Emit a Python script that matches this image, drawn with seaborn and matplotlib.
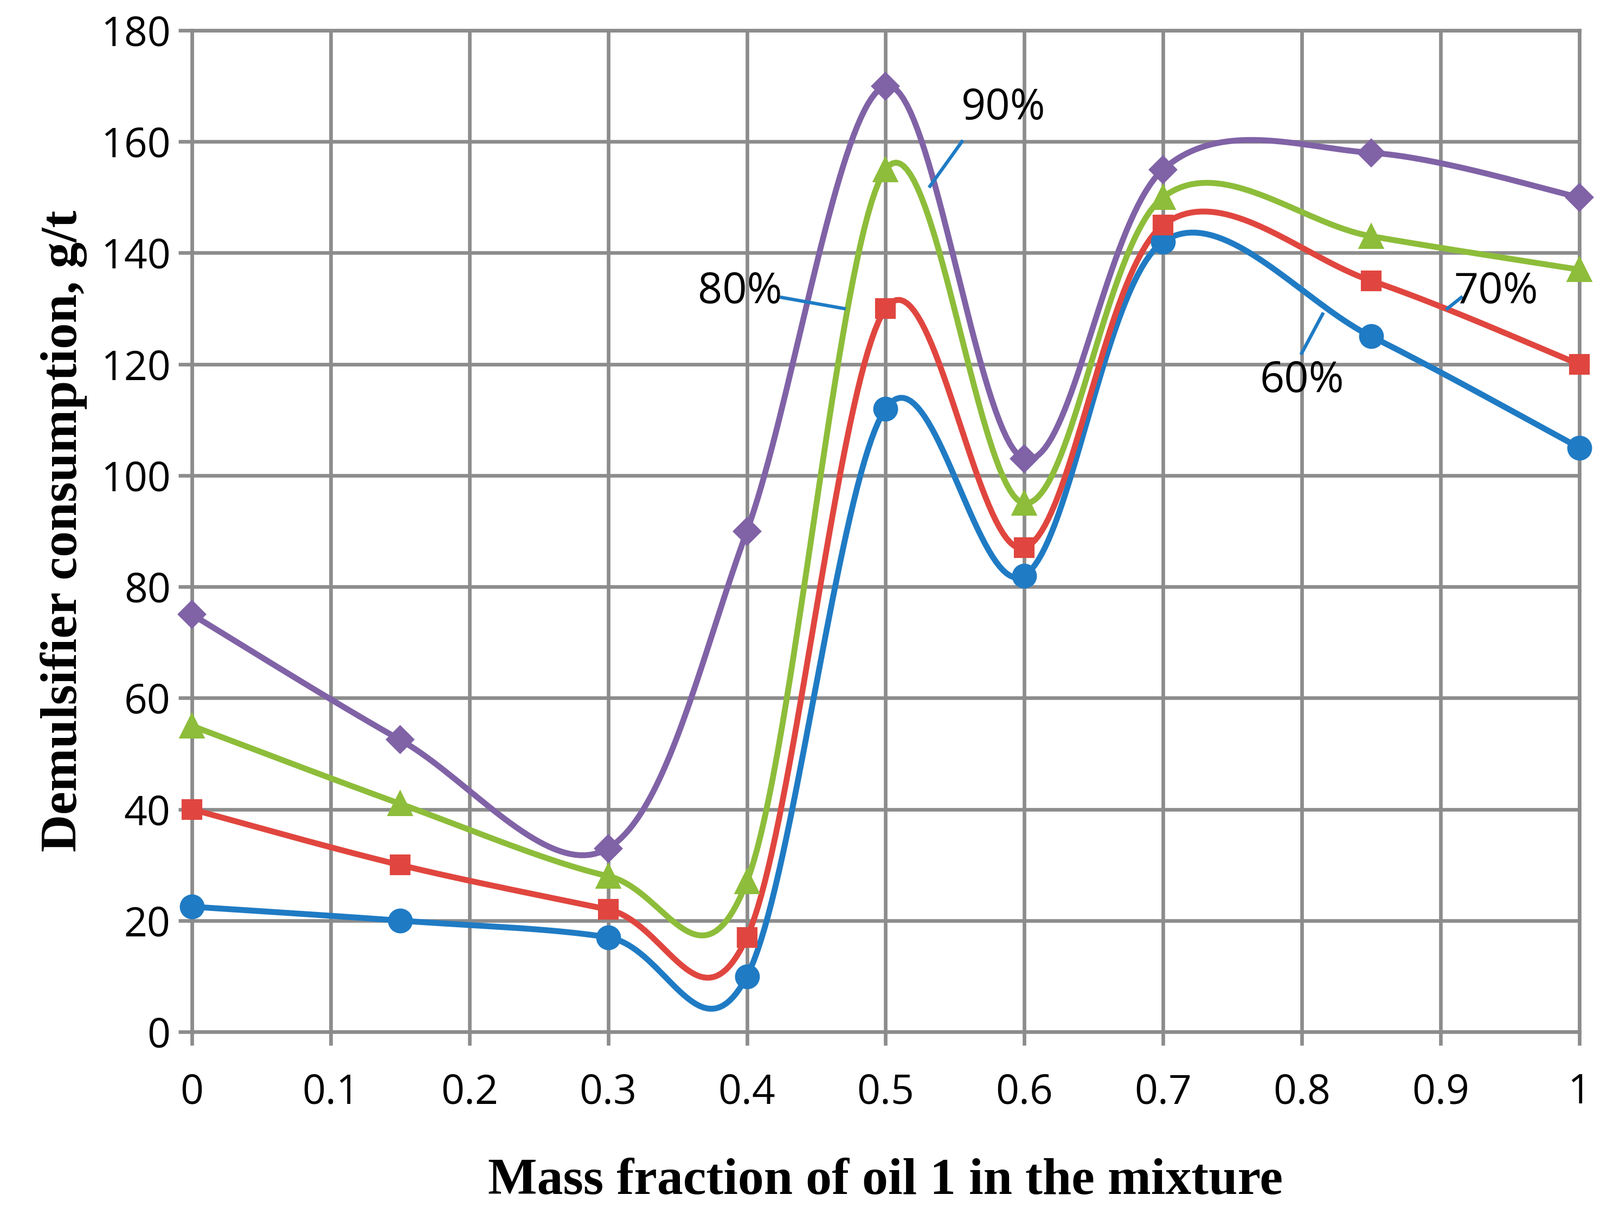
import numpy as np
import pandas as pd
import matplotlib
matplotlib.use("Agg")
import matplotlib.pyplot as plt
import seaborn as sns

# Data
mass_fraction = [0, 0.15, 0.3, 0.4, 0.5, 0.6, 0.7, 0.85, 1.0]
water_60 = [22.5, 20, 17, 10, 112, 82, 142, 125, 105]
water_70 = [40, 30, 22, 17, 130, 87, 145, 135, 120]
water_80 = [55, 41, 28, 27, 155, 95, 150, 143, 137]
water_90 = [75, 52.5, 33, 90, 170, 103, 155, 158, 150]

series = [
    ("60%", water_60, "#1F7BC4", "o", 10),
    ("70%", water_70, "#E0463F", "s", 8),
    ("80%", water_80, "#8DBD3A", "^", 10),
    ("90%", water_90, "#8062A6", "D", 8),
]


def excel_smooth(x, y, n=40):
    """Excel-like smoothed line (Catmull-Rom through the points)."""
    x = np.asarray(x, float)
    y = np.asarray(y, float)
    px = np.concatenate([[x[0]], x, [x[-1]]])
    py = np.concatenate([[y[0]], y, [y[-1]]])
    xs, ys = [], []
    t = np.linspace(0, 1, n)
    for i in range(1, len(px) - 2):
        p0, p1, p2, p3 = [np.array([px[j], py[j]]) for j in (i - 1, i, i + 1, i + 2)]
        c1 = p1 + (p2 - p0) / 6
        c2 = p2 - (p3 - p1) / 6
        b = ((1 - t) ** 3)[:, None] * p1 + (3 * (1 - t) ** 2 * t)[:, None] * c1 \
            + (3 * (1 - t) * t ** 2)[:, None] * c2 + (t ** 3)[:, None] * p2
        xs.extend(b[:, 0])
        ys.extend(b[:, 1])
    return np.array(xs), np.array(ys)


fig = plt.figure(figsize=(2951 / 300, 2239 / 300), dpi=300)
ax = fig.add_axes([0.12, 0.15, 0.867, 0.825])

for name, vals, color, marker, ms in series:
    sx, sy = excel_smooth(mass_fraction, vals)
    curve = pd.DataFrame({"x": sx, "y": sy})
    sns.lineplot(data=curve, x="x", y="y", sort=False, color=color, lw=2.6, ax=ax)
    ax.plot(mass_fraction, vals, ls="none", marker=marker, ms=ms, color=color,
            zorder=5, clip_on=False)

ax.set_xlim(0, 1)
ax.set_ylim(0, 180)
ax.set_xticks(np.arange(0, 1.01, 0.1))
ax.set_xticklabels(["0", "0.1", "0.2", "0.3", "0.4", "0.5", "0.6", "0.7", "0.8", "0.9", "1"])
ax.set_yticks(np.arange(0, 181, 20))
ax.grid(True, color="#8C8C8C", lw=1.6)
ax.set_axisbelow(True)
for sp in ax.spines.values():
    sp.set_color("#8C8C8C")
    sp.set_linewidth(1.6)
ax.tick_params(axis="both", labelsize=18, color="#8C8C8C", length=6, width=1.6)
ax.tick_params(axis="x", pad=12)
for lab in ax.get_xticklabels() + ax.get_yticklabels():
    lab.set_fontfamily("Open Sans")

ax.set_xlabel("Mass fraction of oil 1 in the mixture", fontsize=23, fontweight="bold",
              fontfamily="Liberation Serif", labelpad=20)
ax.set_ylabel("Demulsifier consumption, g/t", fontsize=23, fontweight="bold",
              fontfamily="Liberation Serif", labelpad=6)

lead = "#1F7BC4"
labels = [
    ("90%", (0.585, 166), (0.555, 160), (0.532, 152)),
    ("80%", (0.395, 133), (0.425, 132), (0.47, 130)),
    ("70%", (0.94, 133), (0.915, 132), (0.905, 130)),
    ("60%", (0.8, 117), (0.8, 122), (0.815, 129)),
]
for txt, tpos, a, b in labels:
    ax.text(tpos[0], tpos[1], txt, fontsize=19, fontfamily="Open Sans",
            ha="center", va="center")
    ax.plot([a[0], b[0]], [a[1], b[1]], color=lead, lw=1.5)

fig.savefig("out.png", dpi=300)
